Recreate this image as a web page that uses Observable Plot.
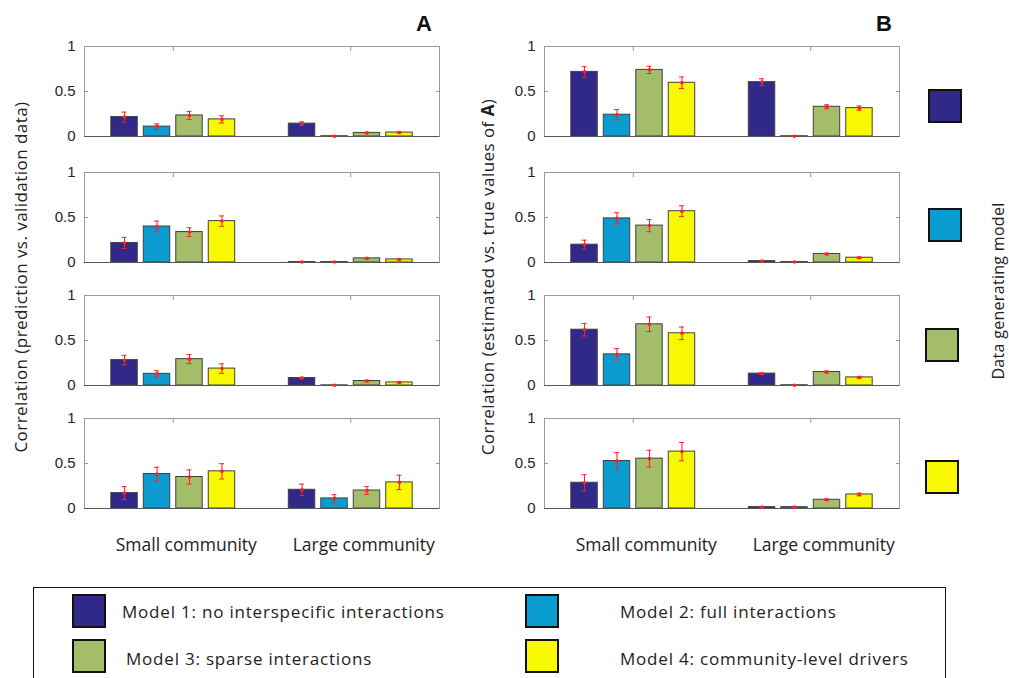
<!DOCTYPE html>
<html><head><meta charset="utf-8">
<script src="https://cdn.jsdelivr.net/npm/d3@7"></script>
<script src="https://cdn.jsdelivr.net/npm/@observablehq/plot@0.6"></script>
<style>
body{margin:0;background:#fff;}
#root{position:relative;width:1009px;height:678px;overflow:hidden;background:#fff;font-family:"Open Sans",sans-serif;color:#222;}
.abs{position:absolute;}
.plot{position:absolute;}
.plot svg{overflow:visible;}
.ylab{position:absolute;width:440px;height:24px;line-height:24px;text-align:center;font-size:17px;letter-spacing:0.45px;transform:rotate(-90deg);transform-origin:50% 50%;white-space:nowrap;color:#222;}
.sq{position:absolute;width:30px;height:30px;border:2px solid #111;}
.lgtext{position:absolute;font-size:17px;letter-spacing:0.8px;white-space:nowrap;line-height:20px;color:#222;}
</style></head><body><div id="root"></div>
<script>
// ---------------- data ----------------
const groups = ["Small community", "Large community"];
const models = ["Model 1: no interspecific interactions", "Model 2: full interactions", "Model 3: sparse interactions", "Model 4: community-level drivers"];
const colors = ["#30298a", "#0a9bd0", "#a3bd6b", "#f8f800"];
const yTicks = [0, 0.5, 1];
const panelTitles = ["A", "B"];
const yLabels = ["Correlation (prediction vs. validation data)", "Correlation (estimated vs. true values of <b>A</b>)"];
const sideLabel = "Data generating model";

// Panel A (prediction vs validation), one row per data generating model
// values: [small M1, M2, M3, M4, large M1, M2, M3, M4]
const predRow1 = [0.216, 0.110, 0.234, 0.190, 0.143, 0.003, 0.040, 0.044];
const predErr1 = [0.055, 0.030, 0.045, 0.040, 0.020, 0.003, 0.005, 0.005];
const predRow2 = [0.217, 0.400, 0.338, 0.460, 0.005, 0.005, 0.046, 0.034];
const predErr2 = [0.062, 0.060, 0.048, 0.057, 0.003, 0.003, 0.008, 0.006];
const predRow3 = [0.282, 0.130, 0.293, 0.188, 0.083, 0.002, 0.050, 0.034];
const predErr3 = [0.053, 0.034, 0.050, 0.053, 0.008, 0.002, 0.008, 0.008];
const predRow4 = [0.171, 0.383, 0.350, 0.413, 0.208, 0.112, 0.200, 0.290];
const predErr4 = [0.072, 0.076, 0.078, 0.085, 0.063, 0.041, 0.043, 0.080];

// Panel B (estimated vs true values of A)
const estRow1 = [0.718, 0.242, 0.740, 0.597, 0.604, 0.003, 0.330, 0.315];
const estErr1 = [0.058, 0.057, 0.040, 0.064, 0.037, 0.003, 0.022, 0.024];
const estRow2 = [0.198, 0.490, 0.410, 0.570, 0.015, 0.005, 0.095, 0.053];
const estErr2 = [0.050, 0.063, 0.068, 0.060, 0.005, 0.003, 0.008, 0.008];
const estRow3 = [0.620, 0.346, 0.680, 0.580, 0.132, 0.003, 0.150, 0.090];
const estErr3 = [0.070, 0.064, 0.080, 0.070, 0.010, 0.003, 0.010, 0.010];
const estRow4 = [0.286, 0.528, 0.554, 0.632, 0.015, 0.015, 0.097, 0.156];
const estErr4 = [0.090, 0.093, 0.093, 0.102, 0.005, 0.005, 0.008, 0.015];

const panels = [
  [[predRow1, predErr1], [predRow2, predErr2], [predRow3, predErr3], [predRow4, predErr4]],
  [[estRow1, estErr1], [estRow2, estErr2], [estRow3, estErr3], [estRow4, estErr4]]
];

// ---------------- layout ----------------
const root = document.getElementById("root");
const PLOT_W = 355, PLOT_H = 90, ML = 50;
const colLeft = [84, 544];
const rowTop = [46, 172, 295, 418];
const STEP = 0.183, HW = 0.0745, CAP = 0.014;
const FRAME = "#9a9a9a";

function makePanel(vals, errs, showX) {
  const data = [];
  groups.forEach((g, gi) => models.forEach((m, mi) => {
    data.push({group: g, gx: gi + 1, model: mi, v: vals[gi * 4 + mi], e: errs[gi * 4 + mi]});
  }));
  const xc = d => d.gx + (d.model - 1.5) * STEP;
  const mb = showX ? 60 : 6;
  return Plot.plot({
    width: ML + PLOT_W + 6,
    height: 6 + PLOT_H + mb,
    marginLeft: ML, marginRight: 6, marginTop: 6, marginBottom: mb,
    x: {type: "linear", domain: [0.5, 2.5], axis: null, label: null},
    y: {domain: [0, 1], axis: null, label: null},
    color: {type: "ordinal", domain: [0, 1, 2, 3], range: colors},
    style: {fontFamily: "'Liberation Sans', Arial, sans-serif", fontSize: "15px", color: "#262626", background: "transparent"},
    marks: [
      Plot.frame({stroke: FRAME, strokeWidth: 1}),
      Plot.axisY({ticks: yTicks, tickSize: 0, tickPadding: 9, tickFormat: d => String(d), fontSize: 15, fill: "#262626", label: null}),
      Plot.axisY({anchor: "left", ticks: [0.5], tickSize: 4, dx: 4, tickFormat: () => "", stroke: FRAME, label: null}),
      Plot.axisY({anchor: "right", ticks: [0.5], tickSize: 4, dx: -4, tickFormat: () => "", stroke: FRAME, label: null}),
      Plot.axisX({anchor: "top", ticks: [1, 2], tickSize: 4, dy: 4, tickFormat: () => "", stroke: FRAME, label: null}),
      Plot.rectY(data, {x1: d => xc(d) - HW, x2: d => xc(d) + HW, y: "v", fill: "model", stroke: "#404040", strokeWidth: 1}),
      Plot.ruleY([0], {stroke: "#555", strokeWidth: 1}),
      Plot.ruleX(data, {x: xc, y1: d => Math.max(0, d.v - d.e), y2: d => d.v + d.e, stroke: "#ff2020", strokeWidth: 1}),
      Plot.ruleY(data, {x1: d => xc(d) - CAP, x2: d => xc(d) + CAP, y: d => Math.max(0, d.v - d.e), stroke: "#ff2020", strokeWidth: 1}),
      Plot.ruleY(data, {x1: d => xc(d) - CAP, x2: d => xc(d) + CAP, y: d => d.v + d.e, stroke: "#ff2020", strokeWidth: 1}),
      Plot.dot(data, {x: xc, y: "v", r: 1.8, fill: "#ff2020", stroke: null}),
      showX ? Plot.axisX({anchor: "bottom", ticks: [1, 2], tickSize: 0, tickPadding: 30, dx: 13, label: null,
        tickFormat: i => groups[i - 1], fontSize: 17.5, fontFamily: "'Open Sans', sans-serif", fill: "#222", lineAnchor: "top"}) : null
    ]
  });
}

panels.forEach((rows, pi) => {
  rows.forEach(([vals, errs], ri) => {
    const div = document.createElement("div");
    div.className = "plot";
    div.style.left = (colLeft[pi] - ML) + "px";
    div.style.top = (rowTop[ri] - 6) + "px";
    div.appendChild(makePanel(vals, errs, ri === 3));
    root.appendChild(div);
  });
  // panel title
  const t = document.createElement("div");
  t.className = "abs";
  t.textContent = panelTitles[pi];
  t.style.cssText += `left:${colLeft[pi] + 332}px;top:11px;font:bold 22px 'Liberation Sans',Arial,sans-serif;color:#111;`;
  root.appendChild(t);
  // y label
  const yl = document.createElement("div");
  yl.className = "ylab";
  yl.innerHTML = yLabels[pi];
  const cx = pi === 0 ? 21 : 488, cy = 277;
  yl.style.left = (cx - 220) + "px";
  yl.style.top = (cy - 12) + "px";
  root.appendChild(yl);
});

// right-side colour keys (data generating model)
const sideTops = [89, 208, 328, 460];
const sideLefts = [928, 928, 925, 925];
colors.forEach((c, i) => {
  const s = document.createElement("div");
  s.className = "sq";
  s.style.left = sideLefts[i] + "px";
  s.style.top = sideTops[i] + "px";
  s.style.background = c;
  root.appendChild(s);
});
const sl = document.createElement("div");
sl.className = "ylab";
sl.style.width = "260px";
sl.style.fontSize = "16px";
sl.style.letterSpacing = "0.3px";
sl.textContent = sideLabel;
sl.style.left = (998 - 130) + "px";
sl.style.top = (291 - 12) + "px";
root.appendChild(sl);

// bottom legend
const box = document.createElement("div");
box.className = "abs";
box.style.cssText += "left:33px;top:587px;width:911px;height:120px;border:1px solid #111;";
root.appendChild(box);
const lgSq = [[72, 594], [525, 594], [72, 639], [525, 639]];
const lgTx = [[122, 602], [620, 602], [126, 649], [620, 649]];
models.forEach((m, i) => {
  const s = document.createElement("div");
  s.className = "sq";
  s.style.left = lgSq[i][0] + "px";
  s.style.top = lgSq[i][1] + "px";
  s.style.background = colors[i];
  root.appendChild(s);
  const t = document.createElement("div");
  t.className = "lgtext";
  t.textContent = m;
  t.style.left = lgTx[i][0] + "px";
  t.style.top = lgTx[i][1] + "px";
  root.appendChild(t);
});
</script></body></html>
